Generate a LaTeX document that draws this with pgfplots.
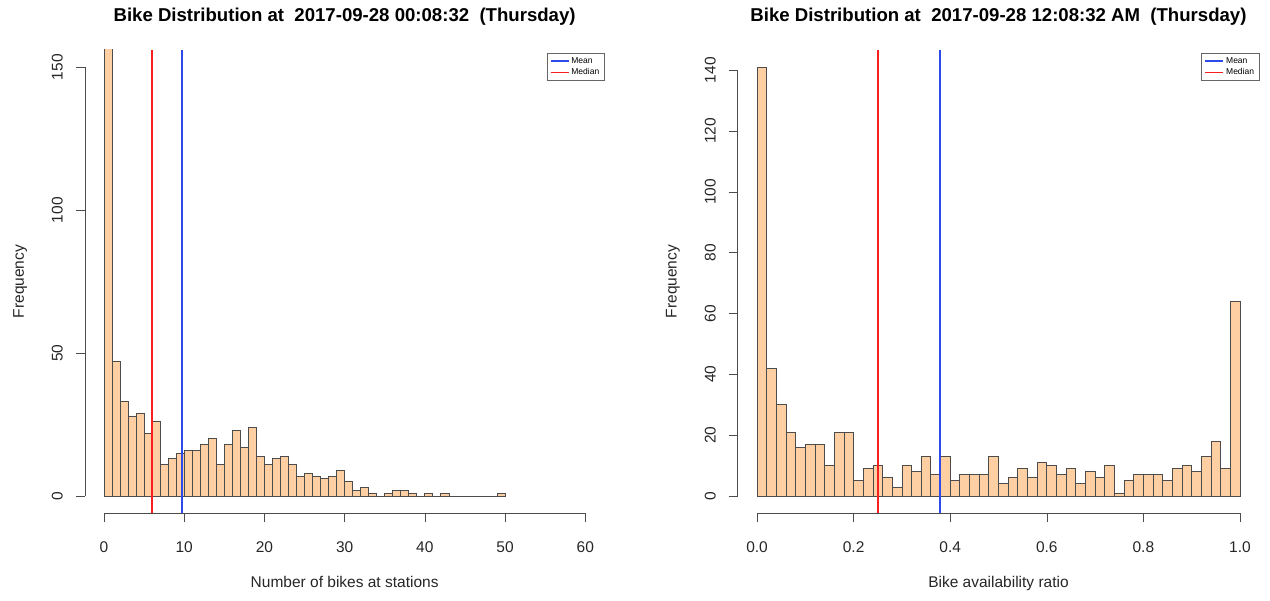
\documentclass[border=0pt]{standalone}
\usepackage{fontspec}
\setmainfont{Liberation Sans}
\usepackage{pgfplots}
\pgfplotsset{compat=1.18}
\definecolor{barfill}{RGB}{253,207,163}
\definecolor{meanblue}{RGB}{45,75,235}
\definecolor{medred}{RGB}{250,30,30}
\pgfplotsset{
 rstyle/.style={
  scale only axis, anchor=south west,
  height=463.2pt,
  axis x line*=bottom, axis y line*=left,
  axis line style={draw=none},
  tick align=outside, major tick length=9pt,
  tick style={black!70, line width=0.6pt},
  clip mode=individual,
  /pgf/number format/assume math mode=true,
  ticklabel style={font=\fontsize{15.5}{18}\selectfont, text=black!85, inner sep=0pt},
  xticklabel style={anchor=north},
  xticklabel shift=19.5pt,
  yticklabel style={rotate=90, anchor=south},
  yticklabel shift=12.7pt,
  label style={font=\fontsize{15.5}{18}\selectfont, text=black!85},
  xlabel style={at={([yshift=-74pt]axis description cs:0.5,0)}, anchor=base},
  ylabel style={at={([xshift=-61pt]axis description cs:0,0.5)}, anchor=base},
  title style={font=\bfseries\fontsize{18.6}{22}\selectfont, at={([yshift=22pt]axis description cs:0.5,1)}, anchor=base},
  legend style={at={([yshift=-3pt,xshift=0pt]axis description cs:1,1)}, anchor=north east,
    font=\fontsize{8.5}{9.5}\selectfont, draw=black!60, line width=0.5pt,
    inner xsep=3pt, inner ysep=2pt, row sep=0pt, cells={anchor=west}},
  legend cell align=left,
 }
}
\begin{document}
\begin{tikzpicture}
\useasboundingbox (0,0) rectangle (1270pt,601pt);
\begin{axis}[rstyle, at={(84.8pt,87.8pt)}, width=519.7pt,
  xmin=-2.4, xmax=62.4, ymin=-6, ymax=156,
  xtick={0,10,...,60}, ytick={0,50,100,150},
  title={Bike Distribution at\ \ 2017-09-28 00:08:32\ \ (Thursday)},
  xlabel={Number of bikes at stations}, ylabel={Frequency}]
\addplot[ybar interval, fill=barfill, draw=black!70, line width=0.8pt, forget plot] coordinates {
(0,198)(1,47)(2,33)(3,28)(4,29)(5,22)(6,26)(7,11)(8,13)(9,15)(10,16)(11,16)(12,18)(13,20)(14,11)(15,18)(16,23)(17,17)(18,24)(19,14)(20,11)(21,13)(22,14)(23,11)(24,7)(25,8)(26,7)(27,6)(28,7)(29,9)(30,5)(31,2)(32,3)(33,1)(34,0)(35,1)(36,2)(37,2)(38,1)(39,0)(40,1)(41,0)(42,1)(43,0)(44,0)(45,0)(46,0)(47,0)(48,0)(49,1)(50,1)};
\addplot[meanblue, line width=1.8pt, legend image code/.code={\draw[meanblue, line width=1.5pt] (0pt,0pt) -- (18pt,0pt);}] coordinates {(9.73,-6) (9.73,156)};
\addlegendentry{Mean}
\addplot[medred, line width=1.8pt, legend image code/.code={\draw[medred, line width=1.5pt] (0pt,0pt) -- (18pt,0pt);}] coordinates {(6,-6) (6,156)};
\addlegendentry{Median}
\draw[black!70, line width=0.6pt] (axis cs:0,-6) -- (axis cs:60,-6);
\draw[black!70, line width=0.6pt] (axis cs:-2.4,0) -- (axis cs:-2.4,150);
\end{axis}
\begin{axis}[rstyle, at={(737.7pt,87.8pt)}, width=521.6pt,
  xmin=-0.04, xmax=1.04, ymin=-5.64, ymax=146.64,
  xtick={0,0.2,...,1.0}, ytick={0,20,...,140},
  xticklabel style={/pgf/number format/.cd, fixed, fixed zerofill, precision=1},
  title={Bike Distribution at\ \ 2017-09-28 12:08:32 AM\ \ (Thursday)},
  xlabel={Bike availability ratio}, ylabel={Frequency}]
\addplot[ybar interval, fill=barfill, draw=black!70, line width=0.8pt, forget plot] coordinates {
(0.00,141)(0.02,42)(0.04,30)(0.06,21)(0.08,16)(0.10,17)(0.12,17)(0.14,10)(0.16,21)(0.18,21)
(0.20,5)(0.22,9)(0.24,10)(0.26,6)(0.28,3)(0.30,10)(0.32,8)(0.34,13)(0.36,7)(0.38,13)
(0.40,5)(0.42,7)(0.44,7)(0.46,7)(0.48,13)(0.50,4)(0.52,6)(0.54,9)(0.56,6)(0.58,11)
(0.60,10)(0.62,7)(0.64,9)(0.66,4)(0.68,8)(0.70,6)(0.72,10)(0.74,1)(0.76,5)(0.78,7)
(0.80,7)(0.82,7)(0.84,5)(0.86,9)(0.88,10)(0.90,8)(0.92,13)(0.94,18)(0.96,9)(0.98,64)(1.00,64)};
\addplot[meanblue, line width=1.8pt, legend image code/.code={\draw[meanblue, line width=1.5pt] (0pt,0pt) -- (18pt,0pt);}] coordinates {(0.379,-5.64) (0.379,146.64)};
\addlegendentry{Mean}
\addplot[medred, line width=1.8pt, legend image code/.code={\draw[medred, line width=1.5pt] (0pt,0pt) -- (18pt,0pt);}] coordinates {(0.2505,-5.64) (0.2505,146.64)};
\addlegendentry{Median}
\draw[black!70, line width=0.6pt] (axis cs:0,-5.64) -- (axis cs:1,-5.64);
\draw[black!70, line width=0.6pt] (axis cs:-0.04,0) -- (axis cs:-0.04,140);
\end{axis}
\end{tikzpicture}
\end{document}
